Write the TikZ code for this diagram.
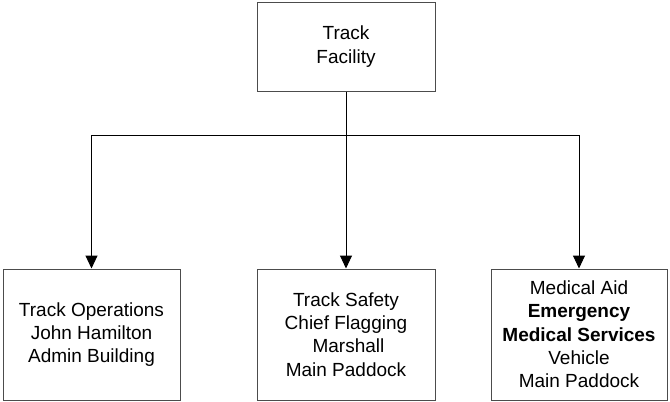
\documentclass[tikz,border=0pt]{standalone}
\usepackage{fontspec}
\setmainfont{Liberation Sans}
\usetikzlibrary{arrows.meta}
\begin{document}
\begin{tikzpicture}[x=1pt,y=-1pt,
  box/.style={draw=black!70,line width=1pt,inner sep=0pt,align=center,
    font=\fontsize{19}{23.3}\selectfont},
  conn/.style={line width=1pt,black},
  arr/.style={conn,-{Triangle[length=13pt,width=12pt]}}]
\useasboundingbox (0,0) rectangle (670,402);
\node[box,minimum width=178pt,minimum height=89pt] (top) at (346,46.5) {Track\\Facility};
\node[box,minimum width=177pt,minimum height=131pt] (a) at (91.5,334.5) {Track Operations\\John Hamilton\\Admin Building};
\node[box,minimum width=178pt,minimum height=131pt] (b) at (346,334.5) {Track Safety\\Chief Flagging\\\hspace{5pt}Marshall\\Main Paddock};
\node[box,minimum width=176pt,minimum height=131pt] (c) at (579,334.5) {Medical Aid\\\textbf{Emergency}\\\textbf{Medical Services}\\Vehicle\\Main Paddock};
\coordinate (bus) at (346,135);
\draw[conn] (top.south) -- (bus);
\draw[arr] (bus) -| (a.north);
\draw[arr] (bus) -- (b.north);
\draw[arr] (bus) -| (c.north);
\end{tikzpicture}
\end{document}
